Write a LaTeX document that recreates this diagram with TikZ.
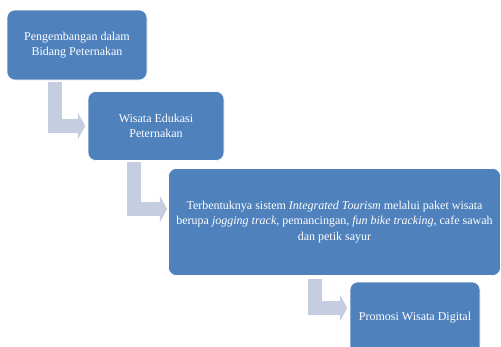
\documentclass[tikz,border=0pt]{standalone}
\usepackage{fontspec}
\setmainfont{Liberation Serif}
\usetikzlibrary{arrows.meta, positioning}

\definecolor{stageblue}{HTML}{4F81BD}
\definecolor{arrowgrey}{RGB}{197,206,224}

\begin{document}
\begin{tikzpicture}[x=0.75pt, y=-0.75pt,
    stagebox/.style={draw=white, line width=0.4pt, fill=stageblue, rounded corners=6pt,
      text=white, align=center, inner sep=0pt, outer sep=0pt,
      font=\fontsize{9}{11.4}\selectfont},
    bentarrow/.style={draw=arrowgrey, line width=10.5pt, line join=miter,
      -{Triangle[width=19.5pt, length=5.5pt]}}]

    \useasboundingbox (0,0) rectangle (501,347);

    \node[stagebox, minimum width=105pt, minimum height=52.5pt] (dev) at (77,45)
      {Pengembangan dalam\\Bidang Peternakan};
    \node[stagebox, minimum width=102pt, minimum height=51.75pt] (edu) at (156,126)
      {Wisata Edukasi\\Peternakan};
    \node[stagebox, minimum width=249pt, minimum height=80.25pt] (tour) at (334.5,222)
      {Terbentuknya sistem \emph{Integrated Tourism} melalui paket wisata\\
       berupa \emph{jogging track}, pemancingan, \emph{fun bike tracking}, cafe sawah\\
       dan petik sayur};
    \node[stagebox, minimum width=97.5pt, minimum height=54pt] (promo) at (415,318)
      {Promosi Wisata Digital};

    % bent arrows between the stages
    \draw[bentarrow, shorten >=2pt] ([xshift=-16.5pt, yshift=-1.5pt]dev.south) |- (edu.west);
    \draw[bentarrow, shorten >=1pt] ([xshift=-16.5pt, yshift=-1pt]edu.south) |- ([yshift=9.75pt]tour.west);
    \draw[bentarrow, shorten >=2pt] ([xshift=-15pt, yshift=-2.5pt]tour.south) |- ([yshift=7.5pt]promo.west);
  \end{tikzpicture}
\end{document}
